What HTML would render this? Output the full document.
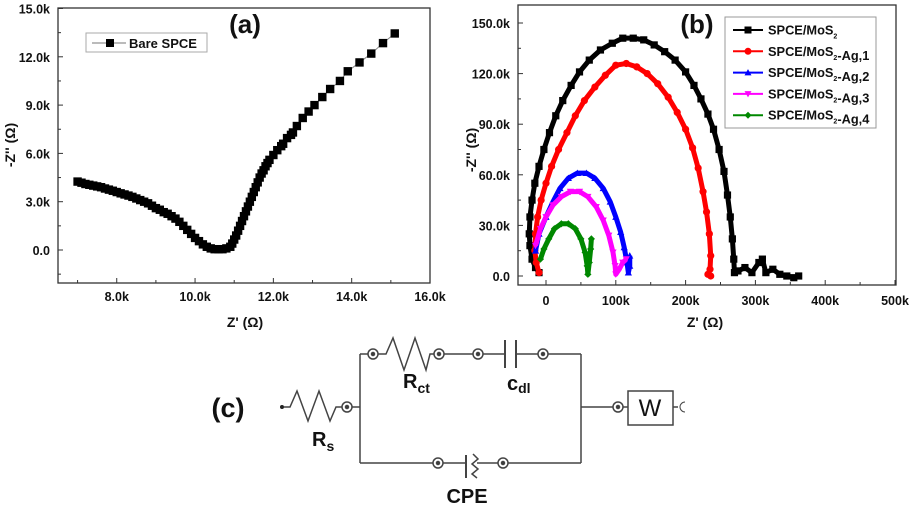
<!DOCTYPE html>
<html><head><meta charset="utf-8"><style>
body{margin:0;background:#fff;}
svg{display:block;font-family:"Liberation Sans",Arial,sans-serif;}
.t{font-weight:bold;font-size:12.5px;}
</style></head><body>
<svg id="root" width="913" height="518" viewBox="0 0 913 518" xmlns="http://www.w3.org/2000/svg">
<g id="ga"></g>
<g id="gb"></g>
<g id="gc" stroke="#444" stroke-width="1.5" fill="none">
 <text x="228" y="417" font-size="27" font-weight="bold" fill="#111" stroke="none" text-anchor="middle">(c)</text>
 <circle cx="282" cy="407" r="2" fill="#222" stroke="none"/>
 <polyline points="284,407 290,407 297,391 308,421 319,391 330,421 336,407 342,407"/>
 <circle cx="347" cy="407" r="5"/><circle cx="347" cy="407" r="1.5" fill="#333"/>
 <line x1="352" y1="407" x2="360" y2="407"/>
 <line x1="360" y1="354" x2="360" y2="463"/><line x1="581" y1="354" x2="581" y2="463"/>
 <line x1="360" y1="354" x2="368" y2="354"/>
 <circle cx="373" cy="354" r="5"/><circle cx="373" cy="354" r="1.5" fill="#333"/>
 <polyline points="378,354 386,354 393,338 404,370 415,338 426,370 430,354 434,354"/>
 <circle cx="439" cy="354" r="5"/><circle cx="439" cy="354" r="1.5" fill="#333"/>
 <line x1="444" y1="354" x2="473" y2="354"/>
 <circle cx="478" cy="354" r="5"/><circle cx="478" cy="354" r="1.5" fill="#333"/>
 <line x1="483" y1="354" x2="505" y2="354"/>
 <line x1="505" y1="340" x2="505" y2="368" stroke-width="2"/><line x1="516" y1="340" x2="516" y2="368" stroke-width="2"/>
 <line x1="516" y1="354" x2="538" y2="354"/>
 <circle cx="543" cy="354" r="5"/><circle cx="543" cy="354" r="1.5" fill="#333"/>
 <line x1="548" y1="354" x2="581" y2="354"/>
 <line x1="360" y1="463" x2="433" y2="463"/>
 <circle cx="438" cy="463" r="5"/><circle cx="438" cy="463" r="1.5" fill="#333"/>
 <line x1="443" y1="463" x2="466" y2="463"/>
 <line x1="466" y1="455" x2="466" y2="478" stroke-width="2"/>
 <polyline points="473,454 478,459 472,464 478,469 472,474 477,478"/>
 <line x1="477" y1="463" x2="498" y2="463"/>
 <circle cx="503" cy="463" r="5"/><circle cx="503" cy="463" r="1.5" fill="#333"/>
 <line x1="508" y1="463" x2="581" y2="463"/>
 <line x1="581" y1="407" x2="613" y2="407"/>
 <circle cx="618" cy="407" r="5"/><circle cx="618" cy="407" r="1.5" fill="#333"/>
 <line x1="623" y1="407" x2="628" y2="407"/>
 <rect x="628" y="391" width="45" height="34"/>
 <line x1="673" y1="407" x2="678" y2="407"/>
 <path d="M685,402 A5,5 0 0 0 685,412" stroke-width="1"/>
 <g fill="#111" stroke="none" font-weight="bold">
  <text x="650" y="416" font-size="24" text-anchor="middle" font-weight="normal">W</text>
  <text x="403" y="388" font-size="20">R<tspan font-size="14" dy="5">ct</tspan></text>
  <text x="507" y="390" font-size="20">c<tspan font-size="14" dy="3">dl</tspan></text>
  <text x="312" y="446" font-size="20">R<tspan font-size="14" dy="5">s</tspan></text>
  <text x="467" y="503" font-size="20" text-anchor="middle">CPE</text>
 </g>
</g>
</svg>
<script>
// ---- chart (a) data ----
const aX=[7.0,7.1,7.2,7.3,7.4,7.5,7.6,7.7,7.8,7.9,8.0,8.1,8.2,8.3,8.4,8.5,8.6,8.7,8.8,8.9,9.0,9.1,9.2,9.3,9.4,9.5,9.6,9.7,9.8,9.9,10.0,10.1,10.2,10.3,10.4,10.5,10.6,10.7,10.8,10.9,10.95,11.0,11.05,11.1,11.15,11.2,11.25,11.3,11.35,11.4,11.45,11.5,11.55,11.6,11.65,11.7,11.75,11.8,11.85,11.9,12.0,12.1,12.2,12.25,12.35,12.45,12.5,12.6,12.75,12.9,13.05,13.25,13.45,13.7,13.9,14.2,14.5,14.8,15.1];
const aY=[4.25,4.18,4.1,4.05,4.0,3.95,3.9,3.82,3.75,3.68,3.6,3.52,3.45,3.38,3.3,3.2,3.1,3.0,2.9,2.75,2.6,2.5,2.35,2.25,2.1,1.95,1.75,1.5,1.25,1.0,0.75,0.55,0.35,0.2,0.1,0.05,0.05,0.05,0.1,0.2,0.4,0.65,0.9,1.2,1.5,1.8,2.1,2.4,2.7,3.0,3.3,3.6,3.9,4.2,4.5,4.75,4.95,5.2,5.4,5.6,5.9,6.2,6.45,6.6,6.95,7.15,7.3,7.7,8.2,8.6,9.0,9.5,10.0,10.5,11.1,11.65,12.2,12.85,13.45];
const aXTicks=[8,10,12,14,16];
const aYTicks=[0,3,6,9,12,15];
// ---- chart (b) data ----
const bNames=["SPCE/MoS2","SPCE/MoS2-Ag,1","SPCE/MoS2-Ag,2","SPCE/MoS2-Ag,3","SPCE/MoS2-Ag,4"];
const bBlackX=[-10,-15,-20,-23,-24,-23,-20,-16,-10,-3,5,14,24,36,48,62,78,95,110,125,140,155,170,185,200,212,222,232,240,248,255,260,264,267,269,270,275,285,295,305,310,315,325,335,345,355,362];
const bBlackY=[2,5,10,18,25,35,45,55,65,75,85,95,104,113,121,128,134,138,141,141,140,137,133,128,121,113,105,96,87,75,62,48,35,22,10,2,3,5,2,8,10,2,4,1,0,-1,0];
const bRedX=[-10,-14,-16,-15,-12,-7,0,8,18,30,42,55,70,85,100,115,130,145,160,175,188,200,210,218,225,230,234,236,235,232,236];
const bRedY=[2,8,15,25,35,45,55,65,75,85,95,104,112,119,125,126,124,120,114,106,97,87,76,64,50,38,25,12,4,1,0];
const bBlueX=[-15,-10,0,10,20,32,45,58,70,82,92,100,107,112,116,118,120,120];
const bBlueY=[15,25,35,44,52,58,61,61,58,52,44,35,26,17,8,2,6,12];
const bMagX=[-15,-8,0,10,22,35,48,60,72,82,90,96,99,100,105,110,115];
const bMagY=[18,28,35,42,47,50,50,47,41,33,24,14,6,1,4,8,10];
const bGreenX=[-8,-3,4,12,22,32,42,50,56,59,60,62,64,65];
const bGreenY=[10,16,22,28,31,31,28,22,14,6,1,8,16,22];
const bXTicks=[0,100,200,300,400,500];
const bYTicks=[0,30,60,90,120,150];

const NS="http://www.w3.org/2000/svg";
function mk(p,tag,attrs){const e=document.createElementNS(NS,tag);for(const k in attrs)e.setAttribute(k,attrs[k]);p.appendChild(e);return e;}
function marker(p,shape,x,y,s,c){
  let e;
  if(shape==="sq") e=mk(p,"rect",{x:x-s,y:y-s,width:2*s,height:2*s,fill:c});
  else if(shape==="ci") e=mk(p,"circle",{cx:x,cy:y,r:s,fill:c});
  else if(shape==="up") e=mk(p,"polygon",{points:`${x},${y-s} ${x-s},${y+s*0.8} ${x+s},${y+s*0.8}`,fill:c});
  else if(shape==="dn") e=mk(p,"polygon",{points:`${x},${y+s} ${x-s},${y-s*0.8} ${x+s},${y-s*0.8}`,fill:c});
  else e=mk(p,"polygon",{points:`${x},${y-s} ${x+s},${y} ${x},${y+s} ${x-s},${y}`,fill:c});
  return e;
}
// ===== chart a =====
const ga=document.getElementById("ga");
const ax=v=>58+(v-6.5)*(372/9.5);
const ay=v=>250-v*(241.5/15);
mk(ga,"rect",{x:58,y:8,width:372,height:275,fill:"none",stroke:"#333","stroke-width":1.3});
aXTicks.forEach(t=>{
  mk(ga,"line",{x1:ax(t),y1:283,x2:ax(t),y2:278,stroke:"#333"});
  mk(ga,"line",{x1:ax(t-1),y1:283,x2:ax(t-1),y2:280,stroke:"#333"});
  const tx=mk(ga,"text",{x:ax(t),y:301,"text-anchor":"middle",class:"t",fill:"#111"});
  tx.textContent=t.toFixed(1)+"k";
  
  
});
aYTicks.forEach(t=>{
  mk(ga,"line",{x1:58,y1:ay(t),x2:63,y2:ay(t),stroke:"#333"});
  mk(ga,"line",{x1:58,y1:ay(t-1.5),x2:61,y2:ay(t-1.5),stroke:"#333"});
  const tx=mk(ga,"text",{x:50,y:ay(t)+5,"text-anchor":"end",class:"t",fill:"#111"});
  tx.textContent=t===0?"0.0":t.toFixed(1)+"k";
  
  
});
const la=mk(ga,"polyline",{points:aX.map((x,i)=>ax(x)+","+ay(aY[i])).join(" "),fill:"none",stroke:"#888","stroke-width":1});


aX.forEach((x,i)=>{
  const m=marker(ga,"sq",ax(x),ay(aY[i]),4.2,"#000");
  
  
});
let e;
e=mk(ga,"text",{x:245,y:33,"text-anchor":"middle","font-size":"26","font-weight":"bold",fill:"#111"});e.textContent="(a)";


e=mk(ga,"rect",{x:86,y:33,width:121,height:19,fill:"#fff",stroke:"#aaa"});


mk(ga,"line",{x1:92,y1:43,x2:126,y2:43,stroke:"#777"});
marker(ga,"sq",110,43,4,"#000");
e=mk(ga,"text",{x:129,y:48,"font-size":"13","font-weight":"bold",fill:"#111"});e.textContent="Bare SPCE";


e=mk(ga,"text",{x:245,y:327,"text-anchor":"middle","font-size":"14","font-weight":"bold",fill:"#111"});e.textContent="Z' (Ω)";


e=mk(ga,"text",{x:0,y:0,"text-anchor":"middle","font-size":"14","font-weight":"bold",fill:"#111",transform:"translate(15,145) rotate(-90)"});e.textContent="-Z'' (Ω)";


// ===== chart b =====
const gb=document.getElementById("gb");
const bx=v=>546+v*(349/500);
const by=v=>276-v*(253/150);
mk(gb,"rect",{x:518,y:5,width:378,height:280,fill:"none",stroke:"#333","stroke-width":1.3});
bXTicks.forEach(t=>{
  mk(gb,"line",{x1:bx(t),y1:285,x2:bx(t),y2:280,stroke:"#333"});
  mk(gb,"line",{x1:bx(t+50),y1:285,x2:bx(t+50),y2:282,stroke:"#333"});
  const tx=mk(gb,"text",{x:bx(t),y:305,"text-anchor":"middle",class:"t",fill:"#111"});
  tx.textContent=t===0?"0":t+"k";
  
  
});
bYTicks.forEach(t=>{
  mk(gb,"line",{x1:518,y1:by(t),x2:523,y2:by(t),stroke:"#333"});
  mk(gb,"line",{x1:518,y1:by(t+15),x2:521,y2:by(t+15),stroke:"#333"});
  const tx=mk(gb,"text",{x:510,y:by(t)+5,"text-anchor":"end",class:"t",fill:"#111"});
  tx.textContent=t===0?"0.0":t.toFixed(1)+"k";
  
  
});
const series=[[bBlackX,bBlackY,"#000","sq"],[bRedX,bRedY,"#f00","ci"],[bBlueX,bBlueY,"#00f","up"],[bMagX,bMagY,"#f0f","dn"],[bGreenX,bGreenY,"#080","di"]];
series.forEach((s,k)=>{
  const l=mk(gb,"polyline",{points:s[0].map((x,i)=>bx(x)+","+by(s[1][i])).join(" "),fill:"none",stroke:s[2],"stroke-width":5,"stroke-linejoin":"round"});
  
  
  s[0].forEach((x,i)=>{
    const m=marker(gb,s[3],bx(x),by(s[1][i]),3.6,s[2]);
    
    
  });
});
e=mk(gb,"text",{x:697,y:33,"text-anchor":"middle","font-size":"26","font-weight":"bold",fill:"#111"});e.textContent="(b)";


e=mk(gb,"rect",{x:725,y:17,width:151,height:111,fill:"#fff",stroke:"#999"});


series.forEach((s,k)=>{
  const y=30+k*21.3;
  mk(gb,"line",{x1:733,y1:y,x2:763,y2:y,stroke:s[2],"stroke-width":2});
  marker(gb,s[3],748,y,3.5,s[2]);
  const tx=mk(gb,"text",{x:768,y:y+4.5,"font-size":"12.8","font-weight":"bold",fill:"#111"});
  const nm=bNames[k];
  tx.innerHTML=nm.replace("MoS2","MoS<tspan font-size=\"7\" dy=\"4\">2</tspan><tspan dy=\"-4\"></tspan>");
  
  
});
e=mk(gb,"text",{x:705,y:327,"text-anchor":"middle","font-size":"14","font-weight":"bold",fill:"#111"});e.textContent="Z' (Ω)";


e=mk(gb,"text",{x:0,y:0,"text-anchor":"middle","font-size":"14","font-weight":"bold",fill:"#111",transform:"translate(476,150) rotate(-90)"});e.textContent="-Z'' (Ω)";


</script>
</body></html>
